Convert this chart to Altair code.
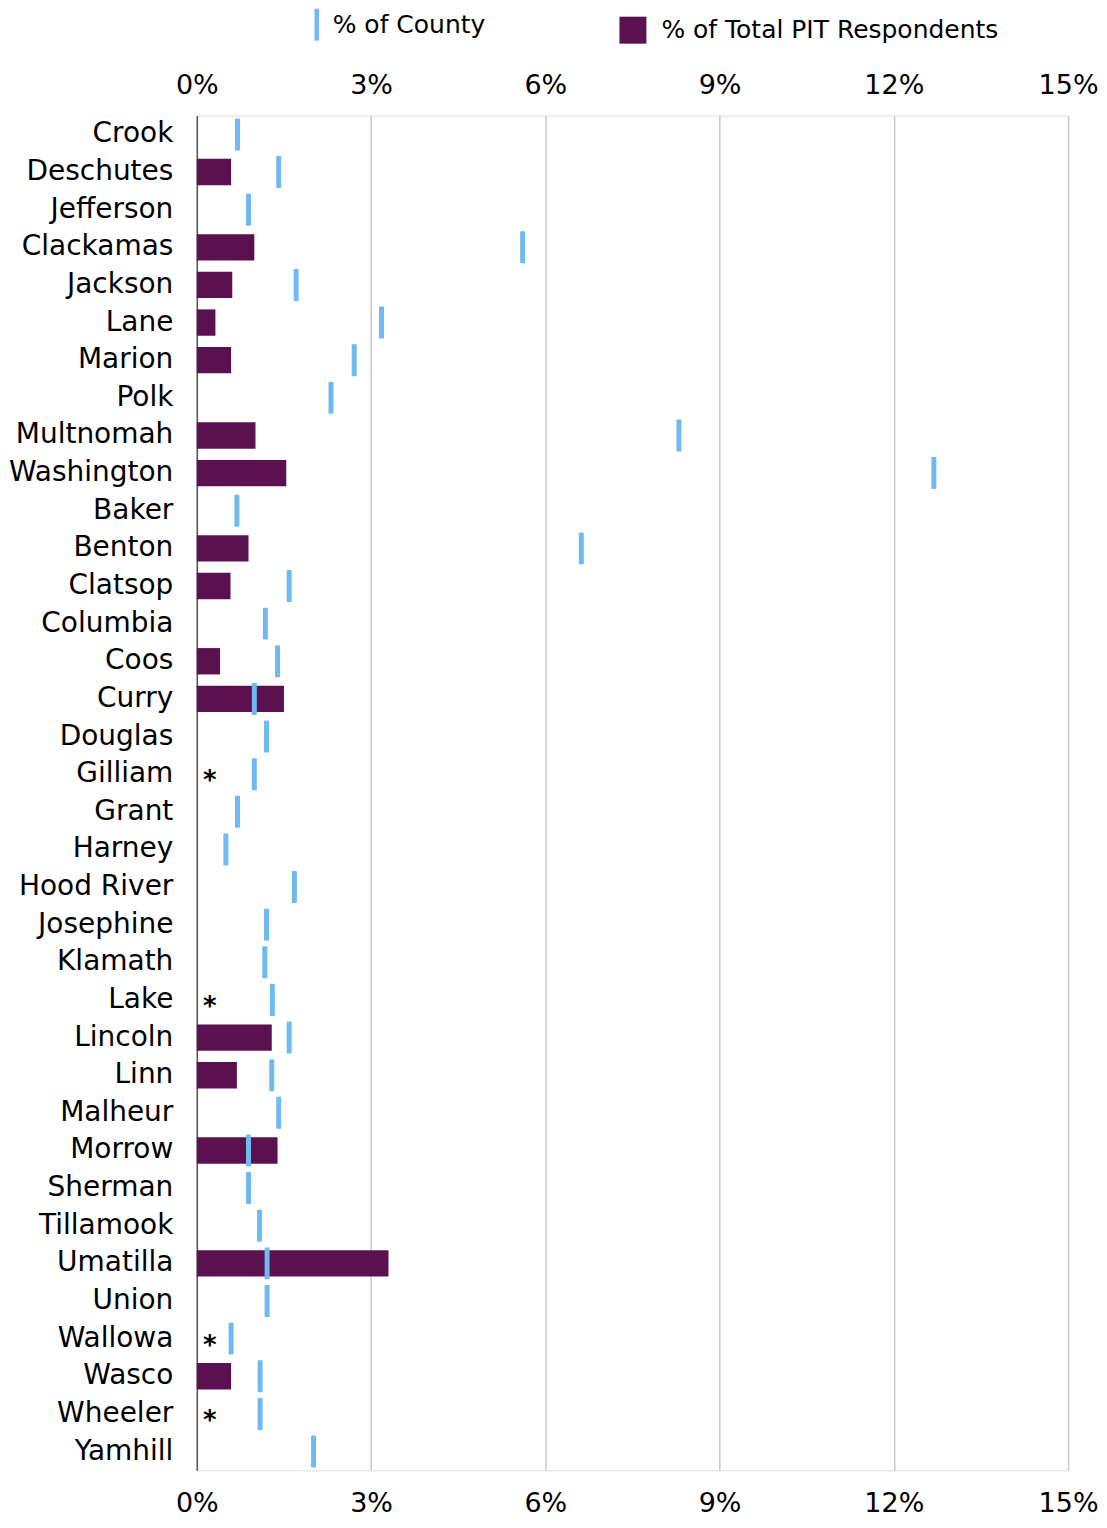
import altair as alt
import pandas as pd

counties = ["Crook", "Deschutes", "Jefferson", "Clackamas", "Jackson", "Lane", "Marion",
            "Polk", "Multnomah", "Washington", "Baker", "Benton", "Clatsop", "Columbia",
            "Coos", "Curry", "Douglas", "Gilliam", "Grant", "Harney", "Hood River",
            "Josephine", "Klamath", "Lake", "Lincoln", "Linn", "Malheur", "Morrow",
            "Sherman", "Tillamook", "Umatilla", "Union", "Wallowa", "Wasco", "Wheeler",
            "Yamhill"]

county_pct = [0.70, 1.41, 0.89, 5.61, 1.71, 3.18, 2.71, 2.31, 8.30, 12.69, 0.69, 6.62,
              1.59, 1.18, 1.39, 0.99, 1.20, 0.99, 0.70, 0.50, 1.68, 1.20, 1.17, 1.30,
              1.59, 1.29, 1.41, 0.89, 0.89, 1.08, 1.21, 1.21, 0.59, 1.09, 1.09, 2.01]

pit_pct = [None, 0.59, None, 0.99, 0.61, 0.32, 0.59, None, 1.01, 1.54, None, 0.89,
           0.58, None, 0.40, 1.50, None, None, None, None, None, None, None, None,
           1.29, 0.69, None, 1.39, None, None, 3.30, None, None, 0.59, None, None]

notes = ["", "", "", "", "", "", "", "", "", "", "", "", "", "", "", "", "", "*", "",
         "", "", "", "", "*", "", "", "", "", "", "", "", "", "*", "", "*", ""]

tick_values = [0, 3, 6, 9, 12, 15]

df = pd.DataFrame({"County": counties, "CountyPct": county_pct,
                   "PITPct": pit_pct, "Note": notes})

FONT = "DejaVu Sans"
PURPLE = "#5B1050"
BLUE = "#6FBAF0"

xscale = alt.Scale(domain=[0, 15], nice=False)
yenc = alt.Y("County:N", sort=counties, title=None,
             scale=alt.Scale(paddingInner=0.3, paddingOuter=0.15),
             axis=alt.Axis(labelFontSize=28, labelFont=FONT, labelColor="black",
                           labelPadding=24, ticks=False, domainColor="#595959",
                           domainWidth=1.5, grid=False, labelLimit=400))

base = alt.Chart(df)

bars = base.transform_filter("isValid(datum.PITPct)").transform_calculate(
    series="'% of Total PIT Respondents'").mark_bar().encode(
    x=alt.X("PITPct:Q", scale=xscale,
            axis=alt.Axis(orient="top", values=tick_values, labelExpr="datum.value + '%'",
                          grid=True, gridColor="#C8C8C8", gridWidth=1.5, domain=False,
                          ticks=False, labelFontSize=27, labelFont=FONT, labelFlush=False,
                          labelColor="black", labelPadding=16, title=None)),
    y=yenc,
    color=alt.Color("series:N",
                    scale=alt.Scale(domain=["% of Total PIT Respondents"], range=[PURPLE]),
                    legend=alt.Legend(orient="none", legendX=423, legendY=-99,
                                      title=None, symbolType="square", symbolSize=729,
                                      symbolStrokeWidth=0, labelFontSize=25,
                                      labelFont=FONT, labelColor="black", labelLimit=600,
                                      labelOffset=15)),
)

ticks = base.transform_calculate(series="'% of County'").mark_tick(
    thickness=5, size=32, cornerRadius=1, opacity=1).encode(
    x=alt.X("CountyPct:Q", scale=xscale,
            axis=alt.Axis(orient="bottom", values=tick_values, labelExpr="datum.value + '%'",
                          grid=False, domain=False, ticks=False, labelFontSize=27,
                          labelFont=FONT, labelColor="black", labelPadding=20,
                          labelFlush=False, title=None)),
    y=yenc,
    color=alt.Color("series:N",
                    scale=alt.Scale(domain=["% of County"], range=[BLUE]),
                    legend=alt.Legend(orient="none", legendX=104, legendY=-107,
                                      title=None, symbolType="M-0.14,-1H0.14V1H-0.14Z",
                                      symbolSize=1024, symbolStrokeWidth=0,
                                      symbolFillColor=BLUE, symbolOpacity=1,
                                      labelFontSize=25, labelLimit=600,
                                      labelFont=FONT, labelColor="black",
                                      labelOffset=0)),
)

stars = base.transform_filter("datum.Note != ''").transform_calculate(
    zero="0").mark_text(
    align="center", baseline="middle", dx=13, dy=7, fontSize=26, fontWeight="bold",
    color="black", font=FONT).encode(
    x=alt.X("zero:Q", scale=xscale, axis=None),
    y=yenc,
    text="Note:N",
)

chart = alt.layer(bars, ticks, stars).resolve_scale(
    color="independent").resolve_axis(x="independent").properties(
    width=872, height=1356,
    padding={"top": 0, "left": 0, "right": 0, "bottom": 0},
).configure_view(strokeWidth=0).configure(background="white")

chart.save("out.html", embed_options={"renderer": "svg", "actions": False})
